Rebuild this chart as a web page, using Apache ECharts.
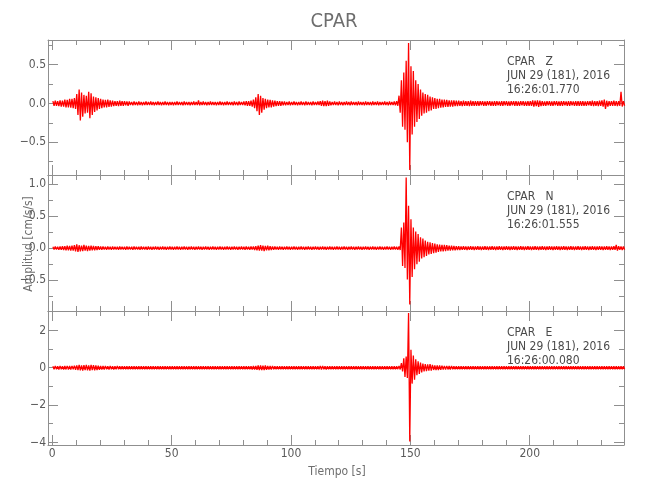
<!DOCTYPE html>
<html><head><meta charset="utf-8">
<script src="https://cdn.jsdelivr.net/npm/echarts@6/dist/echarts.min.js"></script>
<style>html,body{margin:0;padding:0;background:#fff}#c{width:650px;height:500px}</style>
</head><body><div id="c"></div>
<script>
// ---------- text ----------
const stationName = 'CPAR';
const componentLabels = ['CPAR   Z', 'CPAR   N', 'CPAR   E'];
const dateLabel = 'JUN 29 (181), 2016';
const startTimes = ['16:26:01.770', '16:26:01.555', '16:26:00.080'];
const xTitle = 'Tiempo [s]';
const yTitle = 'Amplitud [cm/s/s]';

// ---------- ticks ----------
const xMajorTicks = [0, 50, 100, 150, 200];
const xMinorTicks = [10, 20, 30, 40, 60, 70, 80, 90, 110, 120, 130, 140, 160, 170, 180, 190, 210, 220, 230];
const zYMajor = [-0.5, 0, 0.5];
const zYMinor = [-0.75, -0.25, 0.25, 0.75];
const nYMajor = [-0.5, 0, 0.5, 1.0];
const nYMinor = [-0.75, -0.25, 0.25, 0.75];
const eYMajor = [-4, -2, 0, 2];
const eYMinor = [-3, -1, 1, 3];

// ---------- trace envelopes: max / min per 1-s bin, t = 0 .. 239 s ----------
const zUp = [
.03,.035,.03,.04,.035,.05,.045,.06,.06,.07,
.12,.18,.14,.11,.10,.15,.13,.09,.08,.07,
.06,.05,.045,.05,.04,.035,.03,.03,.035,.03,
.03,.025,.025,.02,.025,.02,.025,.02,.02,.025,
.02,.025,.02,.02,.025,.02,.02,.025,.02,.02,
.02,.02,.025,.02,.02,.025,.02,.02,.02,.025,
.02,.04,.02,.025,.02,.02,.025,.02,.02,.02,
.025,.02,.02,.025,.02,.02,.025,.02,.025,.02,
.025,.03,.03,.035,.05,.08,.12,.10,.07,.06,
.05,.045,.04,.035,.03,.03,.025,.025,.02,.025,
.02,.025,.02,.02,.025,.02,.025,.02,.02,.025,
.02,.025,.03,.035,.03,.035,.025,.02,.025,.02,
.025,.02,.02,.025,.02,.025,.02,.02,.025,.02,
.02,.025,.02,.02,.025,.02,.025,.02,.02,.025,
.02,.025,.02,.025,.03,.10,.30,.40,.55,.78,
.48,.42,.30,.25,.18,.14,.12,.11,.09,.08,
.07,.06,.06,.05,.05,.045,.04,.04,.04,.035,
.035,.03,.035,.03,.03,.035,.03,.03,.03,.03,
.03,.025,.03,.03,.025,.03,.03,.025,.03,.03,
.03,.025,.03,.03,.03,.025,.03,.03,.025,.03,
.03,.04,.035,.04,.035,.03,.025,.03,.03,.025,
.03,.03,.025,.03,.03,.025,.03,.03,.025,.03,
.03,.03,.03,.025,.03,.03,.035,.03,.03,.035,
.04,.05,.035,.03,.03,.035,.03,.03,.15,.03];
const zDn = [
-.03,-.03,-.035,-.04,-.04,-.05,-.05,-.055,-.06,-.07,
-.15,-.22,-.17,-.13,-.12,-.19,-.15,-.11,-.09,-.07,
-.06,-.05,-.05,-.045,-.04,-.035,-.03,-.035,-.03,-.03,
-.025,-.03,-.02,-.025,-.02,-.025,-.02,-.025,-.02,-.02,
-.02,-.02,-.025,-.02,-.02,-.025,-.02,-.02,-.025,-.02,
-.025,-.02,-.02,-.02,-.025,-.02,-.02,-.025,-.02,-.02,
-.02,-.025,-.02,-.02,-.025,-.02,-.02,-.02,-.025,-.02,
-.02,-.025,-.02,-.02,-.02,-.025,-.02,-.025,-.02,-.02,
-.025,-.03,-.03,-.04,-.06,-.10,-.15,-.12,-.08,-.06,
-.05,-.05,-.04,-.035,-.03,-.03,-.025,-.025,-.02,-.025,
-.02,-.02,-.025,-.02,-.02,-.025,-.02,-.02,-.025,-.02,
-.02,-.02,-.03,-.035,-.035,-.03,-.025,-.02,-.02,-.025,
-.02,-.025,-.02,-.02,-.025,-.02,-.02,-.025,-.02,-.02,
-.025,-.02,-.02,-.025,-.02,-.02,-.025,-.02,-.02,-.02,
-.025,-.02,-.02,-.025,-.03,-.12,-.30,-.34,-.50,-.86,
-.40,-.30,-.24,-.20,-.16,-.13,-.12,-.10,-.09,-.07,
-.07,-.06,-.055,-.05,-.045,-.045,-.04,-.04,-.035,-.035,
-.03,-.035,-.03,-.03,-.035,-.03,-.03,-.03,-.03,-.025,
-.03,-.03,-.025,-.03,-.03,-.03,-.025,-.03,-.03,-.025,
-.03,-.03,-.025,-.03,-.03,-.03,-.025,-.03,-.03,-.03,
-.03,-.04,-.035,-.045,-.035,-.03,-.03,-.025,-.03,-.03,
-.025,-.03,-.03,-.03,-.025,-.03,-.03,-.025,-.03,-.03,
-.03,-.03,-.03,-.03,-.025,-.03,-.035,-.03,-.035,-.03,
-.04,-.07,-.04,-.03,-.03,-.03,-.035,-.03,-.04,-.03];

const nUp = [
.02,.025,.02,.025,.03,.03,.04,.035,.04,.045,
.06,.045,.04,.05,.04,.035,.04,.035,.03,.03,
.025,.025,.02,.025,.02,.025,.02,.02,.025,.02,
.02,.025,.02,.02,.025,.02,.02,.025,.02,.02,
.025,.02,.02,.025,.02,.02,.025,.02,.02,.025,
.02,.02,.025,.02,.02,.025,.02,.02,.025,.02,
.02,.025,.02,.02,.025,.02,.02,.025,.02,.02,
.025,.02,.02,.025,.02,.02,.025,.02,.02,.025,
.02,.025,.02,.025,.025,.03,.04,.045,.04,.035,
.04,.03,.025,.025,.02,.025,.02,.02,.025,.02,
.02,.025,.02,.02,.025,.02,.02,.025,.02,.02,
.025,.02,.02,.025,.02,.02,.025,.02,.02,.025,
.02,.02,.025,.02,.02,.025,.02,.02,.025,.02,
.02,.025,.02,.02,.025,.02,.02,.025,.02,.02,
.025,.02,.02,.025,.02,.025,.32,.40,1.10,.66,
.45,.32,.26,.22,.17,.15,.12,.10,.09,.08,
.07,.06,.055,.05,.05,.045,.04,.04,.035,.03,
.03,.025,.03,.025,.025,.03,.025,.025,.03,.025,
.025,.03,.025,.025,.03,.025,.025,.03,.025,.025,
.03,.025,.025,.03,.025,.025,.03,.025,.025,.03,
.025,.025,.03,.025,.025,.03,.025,.025,.03,.025,
.025,.03,.025,.025,.03,.025,.025,.03,.025,.025,
.03,.025,.025,.03,.025,.025,.03,.025,.025,.03,
.025,.025,.03,.025,.025,.03,.05,.03,.025,.025];
const nDn = [
-.02,-.02,-.025,-.025,-.03,-.035,-.035,-.04,-.04,-.05,
-.06,-.05,-.045,-.04,-.045,-.04,-.035,-.035,-.03,-.025,
-.025,-.02,-.025,-.02,-.025,-.02,-.02,-.025,-.02,-.02,
-.025,-.02,-.02,-.025,-.02,-.02,-.025,-.02,-.02,-.025,
-.02,-.025,-.02,-.02,-.025,-.02,-.02,-.025,-.02,-.02,
-.025,-.02,-.02,-.025,-.02,-.02,-.025,-.02,-.02,-.025,
-.02,-.02,-.025,-.02,-.02,-.025,-.02,-.02,-.025,-.02,
-.02,-.025,-.02,-.02,-.025,-.02,-.02,-.025,-.02,-.02,
-.025,-.02,-.025,-.02,-.03,-.035,-.04,-.04,-.045,-.035,
-.035,-.03,-.025,-.02,-.025,-.02,-.025,-.02,-.02,-.025,
-.02,-.02,-.025,-.02,-.02,-.025,-.02,-.02,-.025,-.02,
-.02,-.025,-.02,-.02,-.025,-.02,-.02,-.025,-.02,-.02,
-.025,-.02,-.02,-.025,-.02,-.02,-.025,-.02,-.02,-.025,
-.02,-.02,-.025,-.02,-.02,-.025,-.02,-.02,-.025,-.02,
-.02,-.025,-.02,-.02,-.025,-.03,-.28,-.31,-.49,-.88,
-.45,-.33,-.25,-.21,-.16,-.14,-.12,-.10,-.09,-.08,
-.07,-.06,-.05,-.05,-.045,-.04,-.04,-.035,-.035,-.03,
-.03,-.025,-.025,-.03,-.025,-.025,-.03,-.025,-.025,-.03,
-.025,-.025,-.03,-.025,-.025,-.03,-.025,-.025,-.03,-.025,
-.025,-.03,-.025,-.025,-.03,-.025,-.025,-.03,-.025,-.025,
-.03,-.025,-.025,-.03,-.025,-.025,-.03,-.025,-.025,-.03,
-.025,-.025,-.03,-.025,-.025,-.03,-.025,-.025,-.03,-.025,
-.025,-.03,-.025,-.025,-.03,-.025,-.025,-.03,-.025,-.025,
-.03,-.025,-.025,-.03,-.025,-.025,-.04,-.025,-.03,-.025];

const eUp = [
.08,.09,.08,.09,.08,.09,.10,.09,.10,.11,
.13,.15,.13,.14,.15,.13,.15,.14,.12,.11,
.10,.09,.09,.08,.09,.08,.08,.09,.08,.08,
.08,.075,.08,.085,.075,.08,.08,.075,.085,.08,
.075,.08,.085,.075,.08,.08,.075,.08,.085,.075,
.08,.08,.075,.085,.08,.075,.08,.08,.075,.085,
.08,.075,.08,.08,.085,.075,.08,.08,.075,.08,
.085,.08,.075,.08,.08,.075,.085,.08,.08,.075,
.08,.08,.08,.085,.09,.10,.12,.13,.11,.12,
.10,.09,.09,.08,.08,.075,.08,.08,.075,.08,
.08,.075,.085,.08,.075,.08,.08,.085,.075,.08,
.08,.085,.09,.09,.085,.08,.075,.08,.08,.075,
.08,.085,.075,.08,.08,.075,.085,.08,.075,.08,
.08,.075,.08,.085,.075,.08,.08,.075,.08,.085,
.075,.08,.08,.075,.08,.09,.25,.50,.60,2.93,
.96,.65,.45,.35,.28,.22,.20,.18,.20,.15,
.13,.12,.12,.11,.10,.10,.09,.09,.085,.085,
.08,.08,.085,.08,.075,.08,.085,.08,.08,.075,
.08,.085,.075,.08,.08,.075,.085,.08,.075,.08,
.08,.075,.08,.085,.075,.08,.08,.075,.08,.085,
.075,.08,.08,.075,.085,.08,.08,.075,.08,.08,
.085,.08,.075,.08,.08,.075,.085,.08,.08,.075,
.08,.08,.075,.085,.08,.075,.08,.085,.075,.08,
.08,.075,.085,.08,.075,.08,.08,.075,.085,.08];
const eDn = [
-.08,-.08,-.09,-.08,-.09,-.09,-.10,-.10,-.09,-.11,
-.13,-.14,-.15,-.13,-.14,-.15,-.13,-.14,-.12,-.11,
-.10,-.09,-.08,-.09,-.08,-.09,-.08,-.08,-.08,-.08,
-.075,-.08,-.085,-.075,-.08,-.08,-.075,-.085,-.08,-.075,
-.08,-.08,-.075,-.085,-.08,-.075,-.08,-.08,-.075,-.085,
-.08,-.075,-.08,-.08,-.085,-.075,-.08,-.08,-.075,-.08,
-.085,-.08,-.075,-.08,-.08,-.075,-.085,-.08,-.08,-.075,
-.08,-.08,-.075,-.085,-.08,-.075,-.08,-.08,-.085,-.08,
-.08,-.08,-.08,-.09,-.095,-.11,-.13,-.12,-.12,-.11,
-.10,-.09,-.08,-.08,-.075,-.08,-.08,-.075,-.08,-.085,
-.075,-.08,-.08,-.075,-.085,-.08,-.075,-.08,-.08,-.075,
-.08,-.085,-.09,-.085,-.09,-.08,-.08,-.075,-.08,-.08,
-.075,-.08,-.08,-.075,-.085,-.08,-.075,-.08,-.08,-.075,
-.085,-.08,-.075,-.08,-.08,-.075,-.085,-.08,-.075,-.08,
-.08,-.075,-.08,-.085,-.075,-.09,-.20,-.50,-.55,-3.95,
-.85,-.64,-.40,-.33,-.25,-.20,-.18,-.16,-.15,-.12,
-.12,-.12,-.11,-.10,-.10,-.09,-.09,-.085,-.085,-.08,
-.08,-.08,-.085,-.08,-.08,-.085,-.075,-.08,-.085,-.08,
-.075,-.08,-.08,-.075,-.085,-.08,-.075,-.08,-.08,-.075,
-.08,-.085,-.075,-.08,-.08,-.075,-.085,-.08,-.075,-.08,
-.08,-.075,-.08,-.085,-.075,-.08,-.08,-.075,-.08,-.085,
-.075,-.08,-.08,-.075,-.085,-.08,-.075,-.08,-.08,-.075,
-.08,-.085,-.075,-.08,-.08,-.075,-.085,-.08,-.075,-.08,
-.08,-.075,-.08,-.085,-.075,-.08,-.08,-.075,-.08,-.08];

// ---------- layout / style ----------
const FONT = '"DejaVu Sans Condensed","Liberation Sans Narrow",sans-serif';
const frameColor = '#8f8f8f';
const labelColor = '#5a5a5a';
const traceColor = '#ff0000';
const xRange = [-1.8, 239.5];
const panels = [
  {top: 40, height: 135, yMin: -0.924, yMax: 0.819, major: zYMajor, minor: zYMinor, up: zUp, dn: zDn, dec: 1},
  {top: 175, height: 136, yMin: -0.98, yMax: 1.14, major: nYMajor, minor: nYMinor, up: nUp, dn: nDn, dec: 1},
  {top: 311, height: 134, yMin: -4.14, yMax: 3.04, major: eYMajor, minor: eYMinor, up: eUp, dn: eDn, dec: 0}
];

function fmt(v, dec) {
  const s = Math.abs(v).toFixed(dec);
  return (v < 0 ? '\u2212' : '') + s;
}

function toTrace(up, dn) {
  const pts = [];
  for (let i = 0; i < up.length; i++) {
    pts.push([i + 0.25, up[i]]);
    pts.push([i + 0.75, dn[i]]);
  }
  return pts;
}

const grid = [], xAxis = [], yAxis = [], series = [];
panels.forEach((p, g) => {
  grid.push({left: 48, right: 26, top: p.top, height: p.height, outerBoundsMode: 'none', containLabel: false});
  const xBase = {gridIndex: g, type: 'value', min: xRange[0], max: xRange[1], splitLine: {show: false}};
  const xDefs = [
    ['bottom', xMajorTicks, 10, true], ['bottom', xMinorTicks, 5, false],
    ['top', xMajorTicks, 10, true], ['top', xMinorTicks, 5, false]
  ];
  xDefs.forEach(([pos, vals, len, line], k) => {
    xAxis.push(Object.assign({}, xBase, {
      position: pos,
      axisLine: {show: line, onZero: false, lineStyle: {color: frameColor, width: 1}},
      axisTick: {show: true, inside: true, length: len, customValues: vals, lineStyle: {color: frameColor}},
      axisLabel: {show: g === 2 && k === 0, customValues: vals, margin: 3, color: labelColor,
        fontFamily: FONT, fontSize: 12, formatter: v => String(v)}
    }));
  });
  const yBase = {gridIndex: g, type: 'value', min: p.yMin, max: p.yMax, splitLine: {show: false}};
  const yDefs = [
    ['left', p.major, 10, true], ['left', p.minor, 5, false],
    ['right', p.major, 10, true], ['right', p.minor, 5, false]
  ];
  yDefs.forEach(([pos, vals, len, line], k) => {
    yAxis.push(Object.assign({}, yBase, {
      position: pos,
      axisLine: {show: line, onZero: false, lineStyle: {color: frameColor, width: 1}},
      axisTick: {show: true, inside: true, length: len, customValues: vals, lineStyle: {color: frameColor}},
      axisLabel: {show: k === 0, customValues: vals, margin: 2, color: labelColor,
        fontFamily: FONT, fontSize: 12, formatter: v => fmt(v, p.dec)}
    }));
  });
  series.push({
    type: 'line', xAxisIndex: g * 4, yAxisIndex: g * 4,
    data: toTrace(p.up, p.dn), showSymbol: false, symbol: 'none',
    lineStyle: {color: traceColor, width: 1.3}, itemStyle: {color: traceColor},
    clip: true, silent: true
  });
});

const graphic = [
  {type: 'text', x: 334, y: 22, style: {text: stationName, fontFamily: FONT, fontSize: 20,
    fill: '#6e6e6e', textAlign: 'center', textVerticalAlign: 'middle'}},
  {type: 'text', x: 337, y: 472, style: {text: xTitle, fontFamily: FONT, fontSize: 12,
    fill: '#6e6e6e', textAlign: 'center', textVerticalAlign: 'middle'}},
  {type: 'text', x: 29, y: 244, rotation: Math.PI / 2, style: {text: yTitle, fontFamily: FONT, fontSize: 12,
    fill: '#6e6e6e', textAlign: 'center', textVerticalAlign: 'middle'}}
];
panels.forEach((p, g) => {
  const lines = [componentLabels[g], dateLabel, startTimes[g]];
  lines.forEach((s, k) => {
    graphic.push({type: 'text', x: 507, y: p.top + 22 + k * 14, style: {text: s, fontFamily: FONT,
      fontSize: 12, fill: '#4a4a4a', textAlign: 'left', textVerticalAlign: 'middle'}});
  });
});

const chart = echarts.init(document.getElementById('c'), null, {renderer: 'canvas'});
chart.setOption({animation: false, backgroundColor: '#ffffff', grid, xAxis, yAxis, series, graphic});
</script>
</body></html>
